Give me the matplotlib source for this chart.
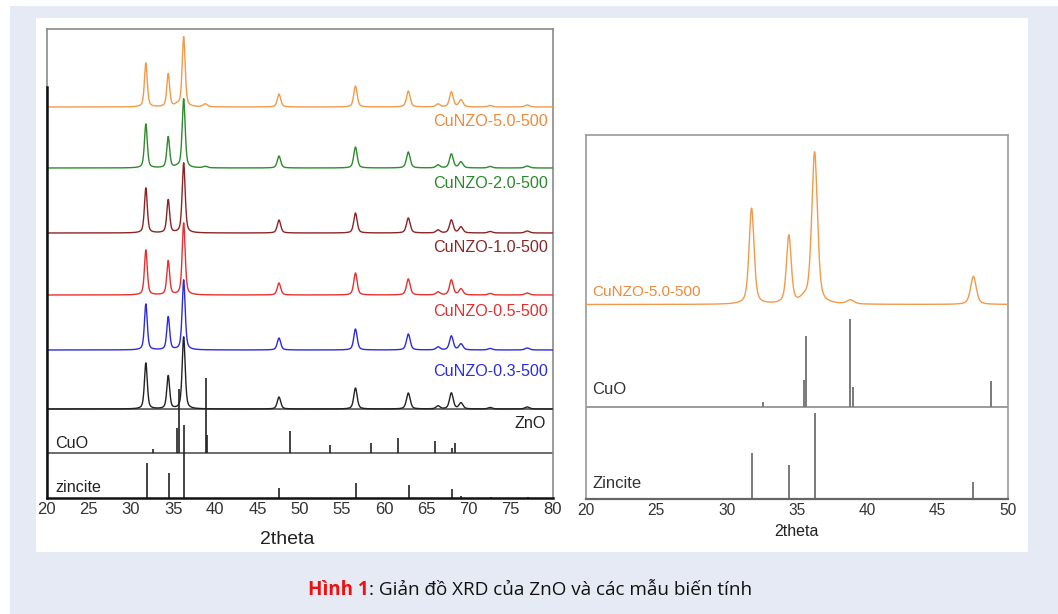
import numpy as np
import matplotlib
matplotlib.use("Agg")
import matplotlib.pyplot as plt
from matplotlib.patches import Rectangle

# ==============================================================
# Data (heights in arbitrary counts)
# ==============================================================
ZNO_POS = [31.77, 34.42, 36.25, 47.54, 56.60, 62.86, 66.38, 67.96, 69.10, 72.56, 76.95]
ZNO_FWHM = [0.40, 0.40, 0.42, 0.48, 0.48, 0.52, 0.55, 0.52, 0.55, 0.6, 0.65]

SAMPLES = ["CuNZO-5.0-500", "CuNZO-2.0-500", "CuNZO-1.0-500",
           "CuNZO-0.5-500", "CuNZO-0.3-500", "ZnO"]
SAMPLE_HEIGHTS = {
    "CuNZO-5.0-500": [44, 33, 70, 13, 21, 16, 3, 15, 7, 1.5, 2],
    "CuNZO-2.0-500": [44, 31, 69, 12, 21, 16, 3, 14, 6, 1.5, 2],
    "CuNZO-1.0-500": [45, 33, 70, 13, 20, 15, 3, 13, 6, 1.5, 2],
    "CuNZO-0.5-500": [45, 34, 72, 12, 22, 16, 3, 15, 6, 1.5, 2],
    "CuNZO-0.3-500": [46, 33, 70, 12, 21, 16, 3, 14, 6, 1.5, 2],
    "ZnO":           [46, 33, 72, 12, 21, 16, 3, 16, 6, 1.5, 2],
}
SAMPLE_OFFSETS = [391, 330, 265, 203, 148, 89]

# small CuO reflections visible in the Cu-rich samples
CUO_BUMP_POS = [35.5, 38.8]
CUO_BUMP_HEIGHTS = {
    "CuNZO-5.0-500": [2, 3],
    "CuNZO-2.0-500": [1, 1.5],
}

# reference sticks (left panel)
CUO_REF_POS = [32.6, 35.5, 35.7, 38.85, 39.05, 48.85, 53.6, 58.4, 61.6, 66.0, 68.0, 68.35]
CUO_REF_INT = [4, 25, 64, 75, 18, 22, 8, 10, 15, 12, 5, 10]
ZINCITE_POS = [31.85, 34.5, 36.3, 47.6, 56.65, 62.95, 68.0, 69.1, 72.6, 77.0]
ZINCITE_INT = [35, 25, 73, 10, 15, 13, 9, 2, 1.5, 1.5]

# right panel (zoom 20-50)
ZOOM_POS = [31.77, 34.42, 35.5, 36.25, 38.8, 47.54]
ZOOM_FWHM = [0.42, 0.40, 0.60, 0.48, 0.60, 0.48]
ZOOM_INT = [96, 68, 4, 152, 4, 28]
CUO_ZOOM_POS = [32.6, 35.5, 35.65, 38.75, 38.95, 48.8]
CUO_ZOOM_INT = [5, 27, 71, 88, 20, 26]
ZINC_ZOOM_POS = [31.8, 34.4, 36.3, 47.5]
ZINC_ZOOM_INT = [46, 34, 86, 17]

COLORS = ["#f39a4a", "#2e8b2e", "#8b2525", "#e83030", "#2c2cdc", "#222222"]
LABEL_COLORS = ["#ee8a3a", "#2a8a2a", "#872828", "#e03030", "#2c2cdc", "#222222"]
LABEL_Y = [376, 315, 250, 186, 126, 75]


def pvoigt(x, pos, hts, fwhm, eta=0.5):
    y = np.zeros_like(x)
    for p, h, w in zip(pos, hts, fwhm):
        g = np.exp(-4 * np.log(2) * ((x - p) / w) ** 2)
        l = 1.0 / (1.0 + 4 * ((x - p) / w) ** 2)
        y += h * (eta * l + (1 - eta) * g)
    return y


BG = "#e6eaf5"
FONT = ["Liberation Sans", "DejaVu Sans"]

fig = plt.figure(figsize=(10.58, 6.14), dpi=100, facecolor=BG)
W, H = 1058, 614
fig.patches.append(Rectangle((0, 1 - 6 / H), 1, 6 / H, transform=fig.transFigure,
                             facecolor="white", edgecolor="none", zorder=-2))
fig.patches.append(Rectangle((0, 0), 10 / W, 1, transform=fig.transFigure,
                             facecolor="white", edgecolor="none", zorder=-2))
fig.patches.append(Rectangle((36 / W, (H - 552) / H), (1028 - 36) / W, (552 - 18) / H,
                             transform=fig.transFigure, facecolor="white",
                             edgecolor="none", zorder=-1))

# ==============================================================
# Left panel: full patterns 20-80
# ==============================================================
axL = fig.add_axes([46.5 / W, (H - 498) / H, (553 - 46.5) / W, 469 / H])
x = np.linspace(20, 80, 3000)
for i, name in enumerate(SAMPLES):
    y = pvoigt(x, ZNO_POS, SAMPLE_HEIGHTS[name], ZNO_FWHM)
    if name in CUO_BUMP_HEIGHTS:
        y += pvoigt(x, CUO_BUMP_POS, CUO_BUMP_HEIGHTS[name], [0.6, 0.6])
    axL.plot(x, y + SAMPLE_OFFSETS[i], color=COLORS[i], lw=1.0, zorder=3)
    if name != "ZnO":
        axL.text(79.4, LABEL_Y[i], name, color=LABEL_COLORS[i], ha="right",
                 va="center", fontsize=11.6, family=FONT)
axL.text(79.2, LABEL_Y[-1], "ZnO", color="#222222", ha="right", va="center",
         fontsize=11.6, family=FONT)

cuo_base, zinc_base = 45, 0
axL.vlines(CUO_REF_POS, cuo_base, [cuo_base + v for v in CUO_REF_INT],
           color="#222222", lw=1.2, zorder=2)
axL.vlines(ZINCITE_POS, zinc_base, [zinc_base + v for v in ZINCITE_INT],
           color="#222222", lw=1.2, zorder=2)
axL.axhline(SAMPLE_OFFSETS[-1], color="#444444", lw=1.1, zorder=1)
axL.axhline(cuo_base, color="#444444", lw=1.1, zorder=1)
axL.text(21.0, 55, "CuO", color="#222222", ha="left", va="center",
         fontsize=11.6, family=FONT)
axL.text(21.1, 11, "zincite", color="#222222", ha="left", va="center",
         fontsize=11.6, family=FONT)

axL.set_xlim(20, 80)
axL.set_ylim(0, 469)
axL.set_xticks(range(20, 81, 5))
axL.set_yticks([])
axL.tick_params(axis="x", length=0, pad=3, labelsize=12, labelcolor="#333333")
for lab in axL.get_xticklabels():
    lab.set_family(FONT)
for s in ["top", "right", "left"]:
    axL.spines[s].set_color("#8a8a8a")
    axL.spines[s].set_linewidth(1.2)
axL.spines["bottom"].set_color("#111111")
axL.spines["bottom"].set_linewidth(1.8)
axL.plot([20, 20], [0, 411], color="#111111", lw=1.8, clip_on=False, zorder=4)
fig.text(287 / W, 1 - 540 / H, "2theta", ha="center", va="center",
         fontsize=14, family=FONT, color="#222222")

# ==============================================================
# Right panel: zoom 20-50
# ==============================================================
axR = fig.add_axes([586 / W, (H - 499) / H, (1008 - 586) / W, 364 / H])
xz = np.linspace(20, 50, 2000)
yz = pvoigt(xz, ZOOM_POS, ZOOM_INT, ZOOM_FWHM)
axR.plot(xz, yz + 194.5, color=COLORS[0], lw=1.0, zorder=3)
axR.text(20.43, 207, "CuNZO-5.0-500", color=LABEL_COLORS[0], ha="left",
         va="center", fontsize=11, family=FONT)

cuo_zbase = 92
axR.vlines(CUO_ZOOM_POS, cuo_zbase, [cuo_zbase + v for v in CUO_ZOOM_INT],
           color="#7a7a7a", lw=1.4, zorder=2)
axR.vlines(ZINC_ZOOM_POS, 0, ZINC_ZOOM_INT, color="#7a7a7a", lw=1.4, zorder=2)
axR.axhline(cuo_zbase, color="#8a8a8a", lw=1.2, zorder=1)
axR.text(20.43, 110, "CuO", color="#333333", ha="left", va="center",
         fontsize=12, family=FONT)
axR.text(20.43, 16, "Zincite", color="#333333", ha="left", va="center",
         fontsize=12, family=FONT)

axR.set_xlim(20, 50)
axR.set_ylim(0, 364)
axR.set_xticks(range(20, 51, 5))
axR.set_yticks([])
axR.tick_params(axis="x", length=0, pad=3, labelsize=11.2, labelcolor="#333333")
for lab in axR.get_xticklabels():
    lab.set_family(FONT)
for s in ["top", "right", "left"]:
    axR.spines[s].set_color("#9a9a9a")
    axR.spines[s].set_linewidth(1.2)
axR.spines["bottom"].set_color("#666666")
axR.spines["bottom"].set_linewidth(1.6)
fig.text(796 / W, 1 - 532 / H, "2theta", ha="center", va="center",
         fontsize=11.5, family=FONT, color="#222222")

# ==============================================================
# Caption
# ==============================================================
CAP_FONT = ["Open Sans", "DejaVu Sans"]
t1 = fig.text(308 / W, 1 - 590 / H, "Hình 1", ha="left", va="center",
              fontsize=13.6, fontweight="bold", color="#ee1111", family=CAP_FONT)
fig.canvas.draw()
bb = t1.get_window_extent(renderer=fig.canvas.get_renderer())
fig.text(bb.x1 / W, 1 - 590 / H, ": Giản đồ XRD của ZnO và các mẫu biến tính",
         ha="left", va="center", fontsize=13.6, color="#111111", family=CAP_FONT)

fig.savefig("out.png", dpi=100, facecolor=BG)
